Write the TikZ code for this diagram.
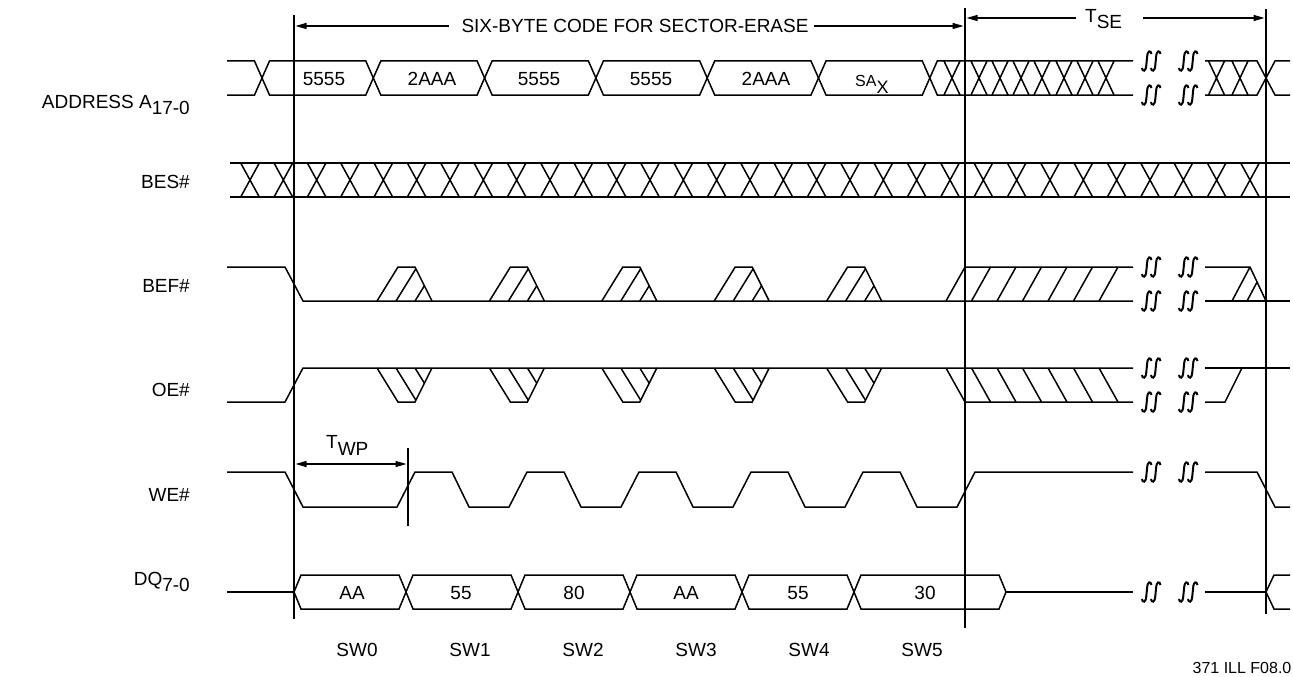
\documentclass[tikz,border=0pt]{standalone}
\usepackage{fontspec}
\setmainfont{Liberation Sans}
\usetikzlibrary{arrows.meta}
\newcommand{\sigfs}[1]{\fontsize{#1}{#1}\selectfont}
\tikzset{
  sig/.style={line width=1.5pt},
  vline/.style={line width=1.3pt},
  lbl/.style={font=\sigfs{19}, inner sep=0pt},
  dimarrow/.style={line width=1.3pt, -{Triangle[length=11pt,width=6pt]}},
  brkmark/.pic={
    \foreach \d in {-4.5,4.5}{
      \draw[line width=2pt] ({\d-4.6},7) .. controls ({\d-4},11) and ({\d-0.6},11) .. ({\d-0.2},4)
        -- ({\d+0.6},-4) .. controls ({\d+1},-11) and ({\d+4.4},-11) .. ({\d+5},-7);
    }
  }
}
\begin{document}
\begin{tikzpicture}[x=1pt,y=-1pt]
\useasboundingbox (0,0) rectangle (1293,677);

% ---------- vertical reference lines ----------
\coordinate (v0t) at (294,15);  \coordinate (v0b) at (294,619);
\coordinate (v1t) at (965,8);   \coordinate (v1b) at (965,628);
\coordinate (v2t) at (1266,9);  \coordinate (v2b) at (1266,614);
\draw[vline] (v0t) -- (v0b);
\draw[vline] (v1t) -- (v1b);
\draw[vline] (v2t) -- (v2b);
\coordinate (wpt) at (408,448); \coordinate (wpb) at (408,526);
\draw[vline] (wpt) -- (wpb);

% ---------- header dimension ----------
\node[lbl] (hdr) at (635,26) {SIX-BYTE CODE FOR SECTOR-ERASE};
\coordinate (h0) at (295.5,26); \coordinate (h1) at (963.5,26);
\draw[dimarrow] ([xshift=-12pt]hdr.west) -- (h0);
\draw[dimarrow] ([xshift=5pt]hdr.east) -- (h1);

\node[lbl, anchor=base west] (tse) at (1085,23) {T\raisebox{-6pt}{SE}};
\coordinate (t0) at (1076,18); \coordinate (t0e) at (966.5,18);
\coordinate (t1) at (1143,18); \coordinate (t1e) at (1264.5,18);
\draw[dimarrow] (t0) -- (t0e);
\draw[dimarrow] (t1) -- (t1e);

\node[lbl, anchor=base west] (twp) at (326,448) {T\raisebox{-7pt}{WP}};
\coordinate (w0) at (295.5,464); \coordinate (w1) at (406.5,464);
\draw[line width=1.3pt, {Triangle[length=11pt,width=6pt]}-{Triangle[length=11pt,width=6pt]}] (w0) -- (w1);

% ---------- signal names ----------
\node[lbl, anchor=base east] (laddr) at (190,108) {ADDRESS A\raisebox{-6pt}{17-0}};
\node[lbl, anchor=base east] (lbes) at (190,188) {BES\#};
\node[lbl, anchor=base east] (lbef) at (190,292) {BEF\#};
\node[lbl, anchor=base east] (loe) at (190,396) {OE\#};
\node[lbl, anchor=base east] (lwe) at (190,501) {WE\#};
\node[lbl, anchor=base east] (ldq) at (190,585) {DQ\raisebox{-6pt}{7-0}};

% ---------- ADDRESS ----------
\draw[sig] (227,61) -- (254.5,61) -- (262,78) -- (254.5,95) -- (227,95);
\foreach \a/\b in {262/373.3, 373.3/484.6, 484.6/595.9, 595.9/707.2, 707.2/818.5, 818.5/929.8}
  \draw[sig] (\a,78) -- ({\a+7.5},61) -- ({\b-7.5},61) -- (\b,78) -- ({\b-7.5},95) -- ({\a+7.5},95) -- cycle;
\draw[sig] (1133,61) -- (937.3,61) -- (929.8,78) -- (937.3,95) -- (1133,95);
\foreach \c in {952,979,1000,1021,1042,1064,1085,1106,1216.5,1240}
  \draw[sig] ({\c-8},61) -- ({\c+8},95) ({\c-8},95) -- ({\c+8},61);
\draw[sig] (1205,61) -- (1257,61) -- (1266,78) -- (1257,95) -- (1205,95);
\draw[sig] (1290,61) -- (1275,61) -- (1266,78) -- (1275,95) -- (1290,95);
\node[lbl] (ad1) at (324,79) {5555};
\node[lbl] (ad2) at (432,79) {2AAA};
\node[lbl] (ad3) at (539,79) {5555};
\node[lbl] (ad4) at (651,79) {5555};
\node[lbl] (ad5) at (766,79) {2AAA};
\node[inner sep=0pt, anchor=base west, font=\sigfs{16}] (ad6) at (855,87) {SA\raisebox{-6pt}{\sigfs{18}X}};

% ---------- BES# ----------
\draw[sig] (230,163) -- (1290,163);
\draw[sig] (230,197) -- (1290,197);
\foreach \k in {0,...,30}{
  \pgfmathsetmacro\c{250+33.333*\k}
  \draw[sig] ({\c-9.3},163) -- ({\c+9.3},197) ({\c-9.3},197) -- ({\c+9.3},163);
}

% ---------- BEF# ----------
\draw[sig] (227,267) -- (285,267) -- (303,301) -- (1133,301);
\foreach \b in {377,489.4,601.8,714.2,826.6}{
  \draw[sig] (\b,301) -- ({\b+21},267) -- ({\b+38},267) -- ({\b+55},301);
  \begin{scope}
    \clip (\b,301) -- ({\b+21},267) -- ({\b+38},267) -- ({\b+55},301) -- cycle;
    \draw[sig] ({\b+19},301) -- ++(21,-34) ({\b+38},301) -- ++(21,-34);
  \end{scope}
}
\draw[sig] (946,301) -- (965,267) -- (1133,267);
\foreach \k in {1,...,6}
  \draw[sig] ({946+25.5*\k},301) -- ++(19,-34);
\draw[sig] (1205,267) -- (1250,267) -- (1266,301);
\draw[sig] (1205,301) -- (1290,301);
\draw[sig] (1232,301) -- (1250,267);
\draw[sig] (1247,301) -- (1257.1,282);

% ---------- OE# ----------
\draw[sig] (227,402) -- (285,402) -- (303,368) -- (1133,368);
\foreach \b in {377,489.4,601.8,714.2,826.6}{
  \draw[sig] (\b,368) -- ({\b+21},402) -- ({\b+38},402) -- ({\b+55},368);
  \begin{scope}
    \clip (\b,368) -- ({\b+21},402) -- ({\b+38},402) -- ({\b+55},368) -- cycle;
    \draw[sig] ({\b+19},368) -- ++(21,34) ({\b+38},368) -- ++(21,34);
  \end{scope}
}
\draw[sig] (946,368) -- (965,402) -- (1133,402);
\foreach \k in {1,...,6}
  \draw[sig] ({946+25.5*\k},368) -- ++(19,34);
\draw[sig] (1205,368) -- (1290,368);
\draw[sig] (1205,402) -- (1225,402) -- (1242,368);

% ---------- WE# ----------
\draw[sig] (227,472) -- (285,472) -- (303,507) -- (397,507) -- (415,472)
  -- (452,472) -- (469,507) -- (509,507) -- (527,472)
  -- (564,472) -- (581,507) -- (621,507) -- (639,472)
  -- (676,472) -- (693,507) -- (733,507) -- (751,472)
  -- (788,472) -- (805,507) -- (845,507) -- (863,472)
  -- (900,472) -- (917,507) -- (957,507) -- (975,472) -- (1133,472);
\draw[sig] (1205,472) -- (1257,472) -- (1275,507) -- (1290,507);

% ---------- DQ ----------
\draw[sig] (227,592) -- (294,592);
\foreach \a/\b in {294/406, 406/518, 518/630, 630/742, 742/854, 854/1006}
  \draw[sig] (\a,592) -- ({\a+7},575) -- ({\b-7},575) -- (\b,592) -- ({\b-7},609) -- ({\a+7},609) -- cycle;
\draw[sig] (1006,592) -- (1133,592);
\draw[sig] (1205,592) -- (1266,592);
\draw[sig] (1290,575) -- (1274,575) -- (1266,592) -- (1274,609) -- (1290,609);
\node[lbl] (dq1) at (352,593) {AA};
\node[lbl] (dq2) at (461,593) {55};
\node[lbl] (dq3) at (574,593) {80};
\node[lbl] (dq4) at (686,593) {AA};
\node[lbl] (dq5) at (798,593) {55};
\node[lbl] (dq6) at (925,593) {30};

% ---------- break marks ----------
\foreach \y in {61,95,267,301,368,402,472,592}{
  \pic at (1151,\y) {brkmark};
  \pic at (1188,\y) {brkmark};
}

% ---------- cycle labels ----------
\foreach \i in {0,...,5}{
  \pgfmathsetmacro\xx{357+113*\i}
  \node[lbl] (sw\i) at (\xx,650) {SW\i};
}
\node[inner sep=0pt, font=\sigfs{16}] (fig) at (1242,668) {371 ILL F08.0};
\end{tikzpicture}
\end{document}
